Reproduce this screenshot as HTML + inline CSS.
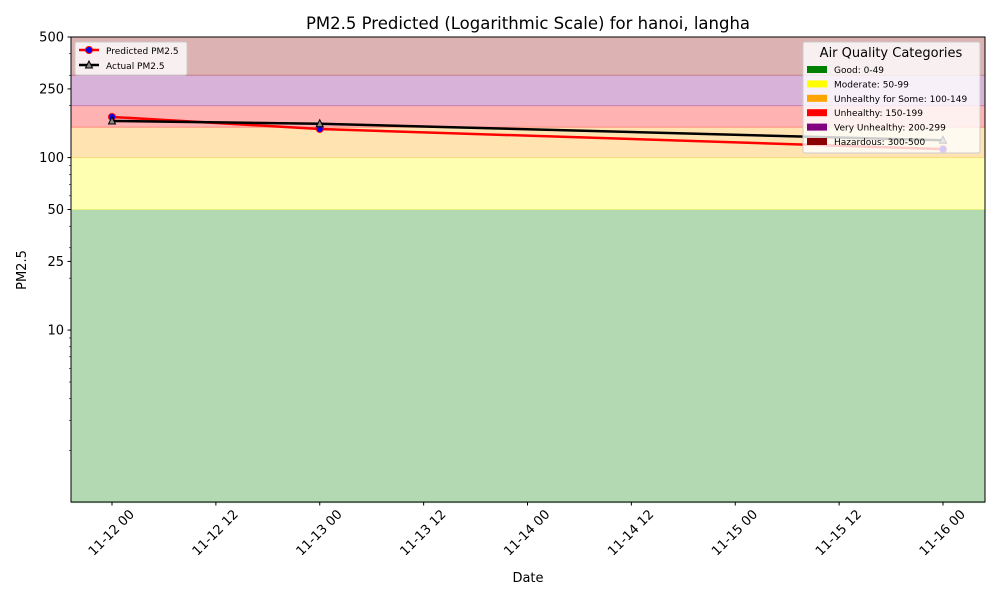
<!DOCTYPE html>
<html><head><meta charset="utf-8"><style>
body{margin:0;background:#fff;font-family:"Liberation Sans","DejaVu Sans",sans-serif}
svg text{font-family:"DejaVu Sans","Liberation Sans",sans-serif}
</style></head><body>
<svg id="c" width="1000" height="600" xmlns="http://www.w3.org/2000/svg"></svg>
<script>
const dates=[0,1,4];
const predicted=[172,146.5,112];
const actual=[163,157,126];
const bandLo=[1,50,100,150,200,300];
const bandHi=[50,100,150,200,300,500];
const bandColors=['#008000','#ffff00','#ffa500','#ff0000','#800080','#8b0000'];
const bandNames=['band-good','band-moderate','band-unhealthy-sensitive','band-unhealthy','band-very-unhealthy','band-hazardous'];
const legendLabels=['Good: 0-49','Moderate: 50-99','Unhealthy for Some: 100-149','Unhealthy: 150-199','Very Unhealthy: 200-299','Hazardous: 300-500'];
const yTicks=[10,25,50,100,250,500];
const xTickDays=[0,0.5,1,1.5,2,2.5,3,3.5,4];
const xTickLabels=['11-12 00','11-12 12','11-13 00','11-13 12','11-14 00','11-14 12','11-15 00','11-15 12','11-16 00'];
const L=71,R=985,T=37,B=502;
const NS='http://www.w3.org/2000/svg';
const svg=document.getElementById('c');
function X(d){return 112+d*207.75;}
function Y(v){return T+(Math.log10(500)-Math.log10(v))*172.5;}
function el(tag,attrs,parent){const e=document.createElementNS(NS,tag);for(const k in attrs)e.setAttribute(k,attrs[k]);(parent||svg).appendChild(e);return e;}
function txt(s,attrs){const e=el('text',attrs);e.textContent=s;return e;}
for(let i=0;i<bandLo.length;i++){
 const r=el('rect',{x:L,y:Y(bandHi[i]),width:R-L,height:Y(bandLo[i])-Y(bandHi[i]),fill:bandColors[i],'fill-opacity':0.3});
 
 
 el('line',{x1:L,x2:R,y1:Y(bandLo[i]),y2:Y(bandLo[i]),stroke:bandColors[i],'stroke-opacity':0.3});
}
for(let d=1;d<=100;d*=10){for(let m=2;m<=9;m++){const v=d*m;if(v>500)break;const y=Y(v);el('line',{x1:L-2,x2:L,y1:y,y2:y,stroke:'#000','stroke-width':0.6});}}
yTicks.forEach(v=>{const y=Y(v);el('line',{x1:L-3.5,x2:L,y1:y,y2:y,stroke:'#000'});
 const t=txt(String(v),{x:L-7,y:y+4.5,'font-size':13,'text-anchor':'end'});
 
 });
xTickDays.forEach((d,i)=>{const x=X(d);el('line',{x1:x,x2:x,y1:B,y2:B+3.5,stroke:'#000'});
 const ax=x+23,ay=B+13;
 const t=txt(xTickLabels[i],{x:ax,y:ay,'font-size':13,'text-anchor':'end',transform:`rotate(-45 ${ax} ${ay})`});
 
 });
function series(vals,color,name,marker){
 const pts=vals.map((v,i)=>X(dates[i])+','+Y(v)).join(' ');
 const p=el('polyline',{points:pts,fill:'none',stroke:color,'stroke-width':2.5});
 
 
 vals.forEach((v,i)=>{const x=X(dates[i]),y=Y(v);let m;
  if(marker==='o')m=el('circle',{cx:x,cy:y,r:3.5,fill:'#0000ff',stroke:'#ff0000','stroke-width':1});
  else m=el('polygon',{points:`${x},${y-4} ${x-3.5},${y+3} ${x+3.5},${y+3}`,fill:'#888',stroke:'#000','stroke-width':1});
  
  });
}
series(predicted,'#ff0000','predicted-line','o');
series(actual,'#000000','actual-line','^');
el('rect',{x:L,y:T,width:R-L,height:B-T,fill:'none',stroke:'#000','stroke-width':1});
const ti=txt('PM2.5 Predicted (Logarithmic Scale) for hanoi, langha',{x:528,y:29,'font-size':16.5,'text-anchor':'middle'});

const xl=txt('Date',{x:528,y:582,'font-size':13,'text-anchor':'middle'});

const yl=txt('PM2.5',{x:26,y:270,'font-size':13,'text-anchor':'middle',transform:'rotate(-90 26 270)'});

const lg=el('g',{});

el('rect',{x:75,y:42,width:112,height:33,rx:2,fill:'#fff','fill-opacity':0.8,stroke:'#ccc'},lg);
el('line',{x1:79,x2:99,y1:50,y2:50,stroke:'#f00','stroke-width':2.5},lg);
el('circle',{cx:89,cy:50,r:3.5,fill:'#00f',stroke:'#f00'},lg);
el('line',{x1:79,x2:99,y1:65,y2:65,stroke:'#000','stroke-width':2.5},lg);
el('polygon',{points:'89,61 85.5,68 92.5,68',fill:'#888',stroke:'#000'},lg);
let t1=el('text',{x:106,y:54,'font-size':9},lg);t1.textContent='Predicted PM2.5';
let t2=el('text',{x:106,y:69,'font-size':9},lg);t2.textContent='Actual PM2.5';
const cg=el('g',{});

el('rect',{x:803,y:42,width:177,height:111,rx:2,fill:'#fff','fill-opacity':0.8,stroke:'#ccc'},cg);
let ct=el('text',{x:891,y:57,'font-size':13,'text-anchor':'middle'},cg);ct.textContent='Air Quality Categories';
legendLabels.forEach((s,i)=>{const y=66+i*14.4;
 el('rect',{x:807,y:y,width:20,height:7,fill:bandColors[i]},cg);
 const t=el('text',{x:834,y:y+7,'font-size':9},cg);t.textContent=s;
 
 });
</script>
</body></html>
